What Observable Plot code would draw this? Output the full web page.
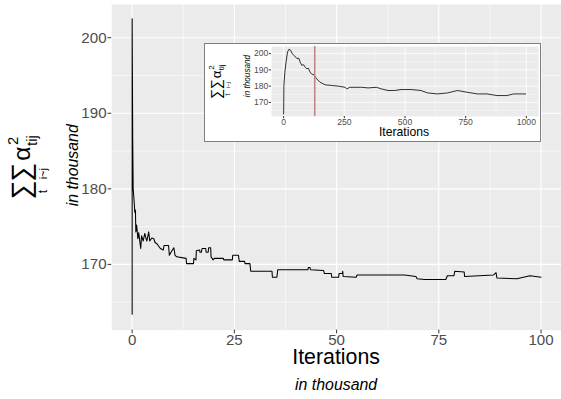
<!DOCTYPE html>
<html><head><meta charset="utf-8">
<script src="https://cdn.jsdelivr.net/npm/d3@7"></script>
<script src="https://cdn.jsdelivr.net/npm/@observablehq/plot@0.6"></script>
<style>
html,body{margin:0;padding:0;overflow:hidden;background:#fff;}
#wrap{position:relative;width:561px;height:399px;overflow:hidden;}
#wrap svg{display:block;}
#inset{position:absolute;left:204px;top:43px;}
</style></head><body><div id="wrap"><div id="main"></div><div id="inset"></div></div>
<script>
// ---- data (x in thousand iterations, y in thousand) ----
const mainX = [0,0,0.13,0.25,0.5,0.65,0.8,0.9,1.1,1.4,1.6,2.1,2.3,2.7,3.1,3.3,3.6,4.05,4.3,4.8,5.3,5.6,6.1,6.5,6.9,7.6,7.8,8.9,9.1,9.5,10.2,10.5,10.9,13.2,13.3,15.0,15.1,15.6,15.7,16.5,16.6,16.9,17.1,18.0,18.1,18.6,18.7,19.2,19.3,19.8,20.1,22.3,22.4,24.5,24.6,26.0,26.2,27.5,27.6,28.8,29.0,34.2,34.3,35.4,35.6,43.0,43.1,43.5,43.6,46.8,47.0,48.7,48.8,50.5,50.6,51.4,51.5,51.6,54.8,55.0,66.6,69.4,69.7,71.5,76.7,77.1,78.7,78.9,81.2,81.3,88.4,89.0,89.2,94.1,97.3,100];
const mainY = [163.4,202.5,187,180,178.2,176.9,177.2,174.3,175.2,173.4,174.2,172.1,173.8,173.1,174.1,173.6,173.1,174.3,173.1,173.5,173.4,172.9,172.7,172.4,172.1,171.9,172.5,172.5,171.2,171.6,172.2,171.2,171.0,170.8,170.1,170.1,170.8,170.6,171.8,171.9,171.6,171.6,172.1,172.1,171.6,171.6,172.2,172.2,171.0,170.6,170.8,170.8,170.6,170.6,171.2,171.2,170.4,170.4,170.1,170.1,169.1,169.1,168.3,168.3,169.3,169.3,169.6,169.6,169.3,169.2,168.8,168.8,168.3,168.3,168.8,168.8,169.1,168.4,168.3,168.6,168.6,168.4,168.1,168.0,168.0,168.5,168.5,169.1,169.0,168.4,168.6,168.9,168.2,168.1,168.5,168.3];
// inset: first 1000 iterations
const insetX = [0,1,5,10,16,22,29,35,46,55,62,68,75,82,89,95,102,109,115,125,136,150,171,198,225,253,260,273,321,348,382,403,430,457,484,525,566,593,634,675,716,757,798,838,879,920,947,997];
const insetY = [162.8,180.4,188.6,194.8,201,202.7,202.1,200,198.5,196.9,197.3,194.8,192.8,193.2,191.7,190.7,191.0,188.6,187.5,186.9,184.5,182.4,180.8,180.4,180.0,179.3,178.3,179.3,179.3,178.9,179.3,178.3,177.3,177.3,177.9,177.9,177.3,175.8,175.2,175.8,177.3,176.2,175.2,175.2,174.2,174.2,175.2,175.2];
const markerX = [128];
const mainXTicks = [0,25,50,75,100];
const mainXMinor = [12.5,37.5,62.5,87.5];
const yTicks = [170,180,190,200];
const yMinor = [165,175,185,195];
const insetXTicks = [0,250,500,750,1000];
const insetXMinor = [125,375,625,875];
const xTitle = "Iterations";
const unitLabel = "in thousand";

const FONT = "'Liberation Sans', Arial, Helvetica, sans-serif";
const mainData = mainX.map((x, i) => ({x, y: mainY[i]}));
const insetData = insetX.map((x, i) => ({x, y: insetY[i]}));
const fmt = d => String(d);

function sumExpr(parent, cx, cy, s) {
  const g = parent.append("g")
    .attr("transform", `translate(${cx},${cy}) rotate(-90) scale(${s})`)
    .attr("fill", "black").style("font-family", FONT);
  const t = (x, y, txt, size, anchor = "start") =>
    g.append("text").attr("x", x).attr("y", y).attr("font-size", size)
      .attr("text-anchor", anchor).text(txt);
  t(-36, 0, "∑", 27);
  t(-28, 17, "t", 12, "middle");
  t(-18, 0, "∑", 27);
  t(-10, 17, "i~j", 11, "middle");
  t(3, 0, "α", 25);
  t(19, -12, "2", 15);
  t(18, 7, "tij", 15);
}

// ---- main chart ----
const main = Plot.plot({
  width: 565, height: 399,
  marginTop: 4, marginBottom: 67, marginLeft: 112, marginRight: 0,
  x: {domain: [-5, 105]},
  y: {domain: [161.3, 204.4]},
  style: {fontFamily: FONT, background: "white", overflow: "visible"},
  marks: [
    Plot.frame({fill: "#ebebeb", stroke: null}),
    Plot.gridX(mainXMinor, {stroke: "white", strokeOpacity: 1, strokeWidth: 0.55}),
    Plot.gridY(yMinor, {stroke: "white", strokeOpacity: 1, strokeWidth: 0.55}),
    Plot.gridX(mainXTicks, {stroke: "white", strokeOpacity: 1, strokeWidth: 1.1}),
    Plot.gridY(yTicks, {stroke: "white", strokeOpacity: 1, strokeWidth: 1.1}),
    Plot.axisX(mainXTicks, {tickSize: 3.7, tickPadding: 0.5, fontSize: 15.2, stroke: "#333333", fill: "#4d4d4d", label: null, tickFormat: fmt}),
    Plot.axisY(yTicks, {tickSize: 3.7, tickPadding: 1.5, fontSize: 15.2, stroke: "#333333", fill: "#4d4d4d", label: null, tickFormat: fmt}),
    Plot.line(mainData, {x: "x", y: "y", stroke: "black", strokeWidth: 1.07})
  ]
});
document.getElementById("main").appendChild(main);
const ms = d3.select(main);
ms.append("text").attr("x", 338.5).attr("y", 366.5).attr("text-anchor", "middle")
  .attr("font-size", 21.5).attr("fill", "black").style("font-family", FONT).text(xTitle);
ms.append("text").attr("x", 338.5).attr("y", 393).attr("text-anchor", "middle")
  .attr("font-size", 16).attr("font-style", "italic").attr("fill", "black").style("font-family", FONT).text(unitLabel);
ms.append("text").attr("transform", "translate(78.5,166.5) rotate(-90)").attr("text-anchor", "middle")
  .attr("font-size", 16).attr("font-style", "italic").attr("fill", "black").style("font-family", FONT).text(unitLabel);
sumExpr(ms, 30, 165, 1);

// ---- inset chart ----
const inset = Plot.plot({
  width: 337, height: 99,
  marginTop: 3, marginBottom: 26, marginLeft: 67, marginRight: 3,
  x: {domain: [-50, 1050]},
  y: {domain: [161.3, 204.4]},
  style: {fontFamily: FONT, background: "white"},
  marks: [
    Plot.frame({fill: "#ebebeb", stroke: null}),
    Plot.gridX(insetXMinor, {stroke: "white", strokeOpacity: 1, strokeWidth: 0.4}),
    Plot.gridY(yMinor, {stroke: "white", strokeOpacity: 1, strokeWidth: 0.4}),
    Plot.gridX(insetXTicks, {stroke: "white", strokeOpacity: 1, strokeWidth: 0.8}),
    Plot.gridY(yTicks, {stroke: "white", strokeOpacity: 1, strokeWidth: 0.8}),
    Plot.axisX(insetXTicks, {tickSize: 2.2, tickPadding: 0.3, fontSize: 8.6, stroke: "#333333", fill: "#4d4d4d", label: null, tickFormat: fmt}),
    Plot.axisY(yTicks, {tickSize: 2.2, tickPadding: 1, fontSize: 8.6, stroke: "#333333", fill: "#4d4d4d", label: null, tickFormat: fmt}),
    Plot.line(insetData, {x: "x", y: "y", stroke: "black", strokeWidth: 0.8}),
    Plot.ruleX(markerX, {stroke: "#bf8585", strokeWidth: 1.6})
  ]
});
document.getElementById("inset").appendChild(inset);
const is = d3.select(inset);
is.append("rect").attr("x", 0.5).attr("y", 0.5).attr("width", 336).attr("height", 98)
  .attr("fill", "none").attr("stroke", "#7f7f7f").attr("stroke-width", 1);
is.append("text").attr("x", 200).attr("y", 93).attr("text-anchor", "middle")
  .attr("font-size", 12.2).attr("fill", "black").style("font-family", FONT).text(xTitle);
is.append("text").attr("transform", "translate(45.5,33) rotate(-90)").attr("text-anchor", "middle")
  .attr("font-size", 8.2).attr("font-style", "italic").attr("fill", "black").style("font-family", FONT).text(unitLabel);
sumExpr(is, 16.5, 36.8, 0.53);
</script></body></html>
